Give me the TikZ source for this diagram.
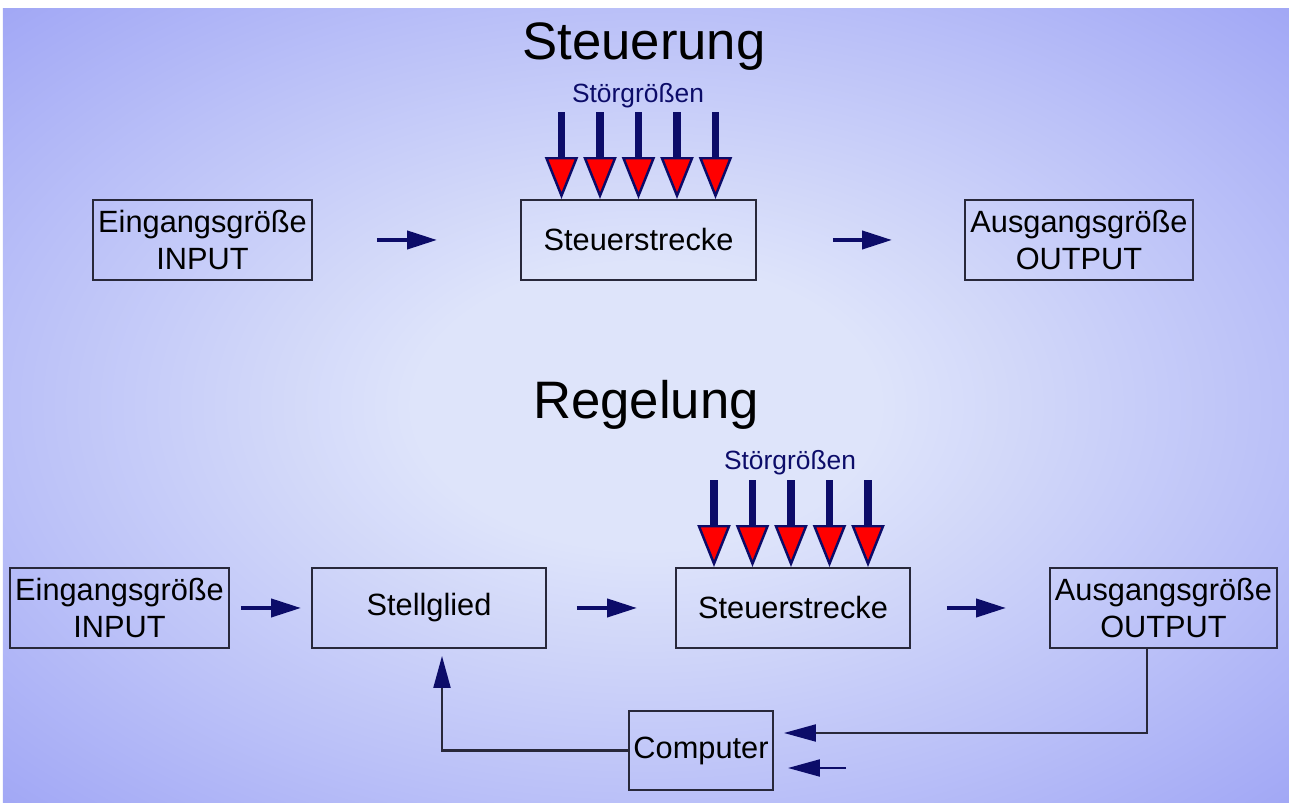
\documentclass[tikz,border=0pt]{standalone}
\usepackage{fontspec}
\setmainfont{Liberation Sans}
\usepackage{tikz}
\usetikzlibrary{arrows.meta}

\definecolor{navy}{RGB}{12,12,105}
\definecolor{boxline}{RGB}{40,40,58}
\definecolor{bgin}{RGB}{222,228,250}
\definecolor{bgmid}{RGB}{186,192,248}
\definecolor{bgout}{RGB}{160,166,245}
\pgfdeclareradialshading{bgshade}{\pgfpoint{0bp}{0bp}}{color(0bp)=(bgin); color(9bp)=(bgin); color(25bp)=(bgmid); color(36bp)=(bgout); color(50bp)=(bgout)}

\tikzset{
  block/.style={draw=boxline, line width=1.1pt, minimum height=1.6cm, align=center,
    font=\fontsize{17.5}{21}\selectfont, inner sep=0pt},
  flow/.style={draw=navy, line width=2.3pt, -{Triangle[length=0.6cm, width=0.36cm]}},
  fb/.style={draw=boxline, line width=1.2pt, -{Triangle[length=0.64cm, width=0.34cm, color=navy]}},
  stoer/.style={draw=navy, line width=4.5pt,
    -{Triangle[length=0.84cm, width=0.66cm, fill=red, line width=1.4pt]}},
  stoerlabel/.style={text=navy, font=\fontsize{15}{18}\selectfont, inner sep=0pt},
  title/.style={font=\fontsize{30}{36}\selectfont, inner sep=0pt}
}

\begin{document}
\begin{tikzpicture}

	\useasboundingbox (0,0) rectangle (25.78,16.06);
	\fill[white] (0,0) rectangle (25.78,16.06);
	\shade[shading=bgshade] (0.06,0) rectangle (25.78,15.88);

	% Steuerung
	\node[title] (titel1) at (12.88,15.12) {Steuerung};

	\node[block, minimum width=4.38cm] (ein1) at (4.05,11.26) {Eingangsgröße\\INPUT};
	\node[block, minimum width=4.7cm] (strecke1) at (12.77,11.26) {Steuerstrecke};
	\node[block, minimum width=4.56cm] (aus1) at (21.58,11.26) {Ausgangsgröße\\OUTPUT};

	\draw[flow, shorten <=1.28cm, shorten >=1.66cm] (ein1) -- (strecke1);
	\draw[flow, shorten <=1.52cm, shorten >=1.44cm] (strecke1) -- (aus1);

	\node[stoerlabel] (stoer1) at (12.76,14.14) {Störgrößen};
	\foreach \dx in {-2,-1,0,1,2}
		\draw[stoer] ([xshift=\dx*0.77cm, yshift=1.74cm]strecke1.north) -- ([xshift=\dx*0.77cm]strecke1.north);

	% Regelung
	\node[title] (titel2) at (12.92,7.96) {Regelung};

	\node[block, minimum width=4.38cm] (ein2) at (2.39,3.9) {Eingangsgröße\\INPUT};
	\node[block, minimum width=4.68cm] (stell) at (8.58,3.9) {Stellglied};
	\node[block, minimum width=4.68cm] (strecke2) at (15.86,3.9) {Steuerstrecke};
	\node[block, minimum width=4.54cm] (aus2) at (23.27,3.9) {Ausgangsgröße\\OUTPUT};
	\node[block, minimum width=2.88cm, minimum height=1.58cm] (comp) at (14.02,1.05) {Computer};

	\draw[flow, shorten <=0.22cm, shorten >=0.2cm] (ein2) -- (stell);
	\draw[flow, shorten <=0.6cm, shorten >=0.76cm] (stell) -- (strecke2);
	\draw[flow, shorten <=0.72cm, shorten >=0.86cm] (strecke2) -- (aus2);

	\node[stoerlabel] (stoer2) at (15.8,6.8) {Störgrößen};
	\foreach \dx in {-2,-1,0,1,2}
		\draw[stoer] ([xshift=\dx*0.77cm-0.04cm, yshift=1.74cm]strecke2.north) -- ([xshift=\dx*0.77cm-0.04cm]strecke2.north);

	% Rueckfuehrung
	\coordinate (extern) at (16.92,0.7);
	\draw[fb] ([xshift=-0.33cm]aus2.south) |- ([xshift=0.2cm, yshift=0.35cm]comp.east);
	\draw[fb, draw=navy] (extern) -- ([xshift=0.28cm]comp.east |- extern);
	\draw[fb] (comp.west) -| ([xshift=0.26cm, yshift=-0.14cm]stell.south);

\end{tikzpicture}
\end{document}
